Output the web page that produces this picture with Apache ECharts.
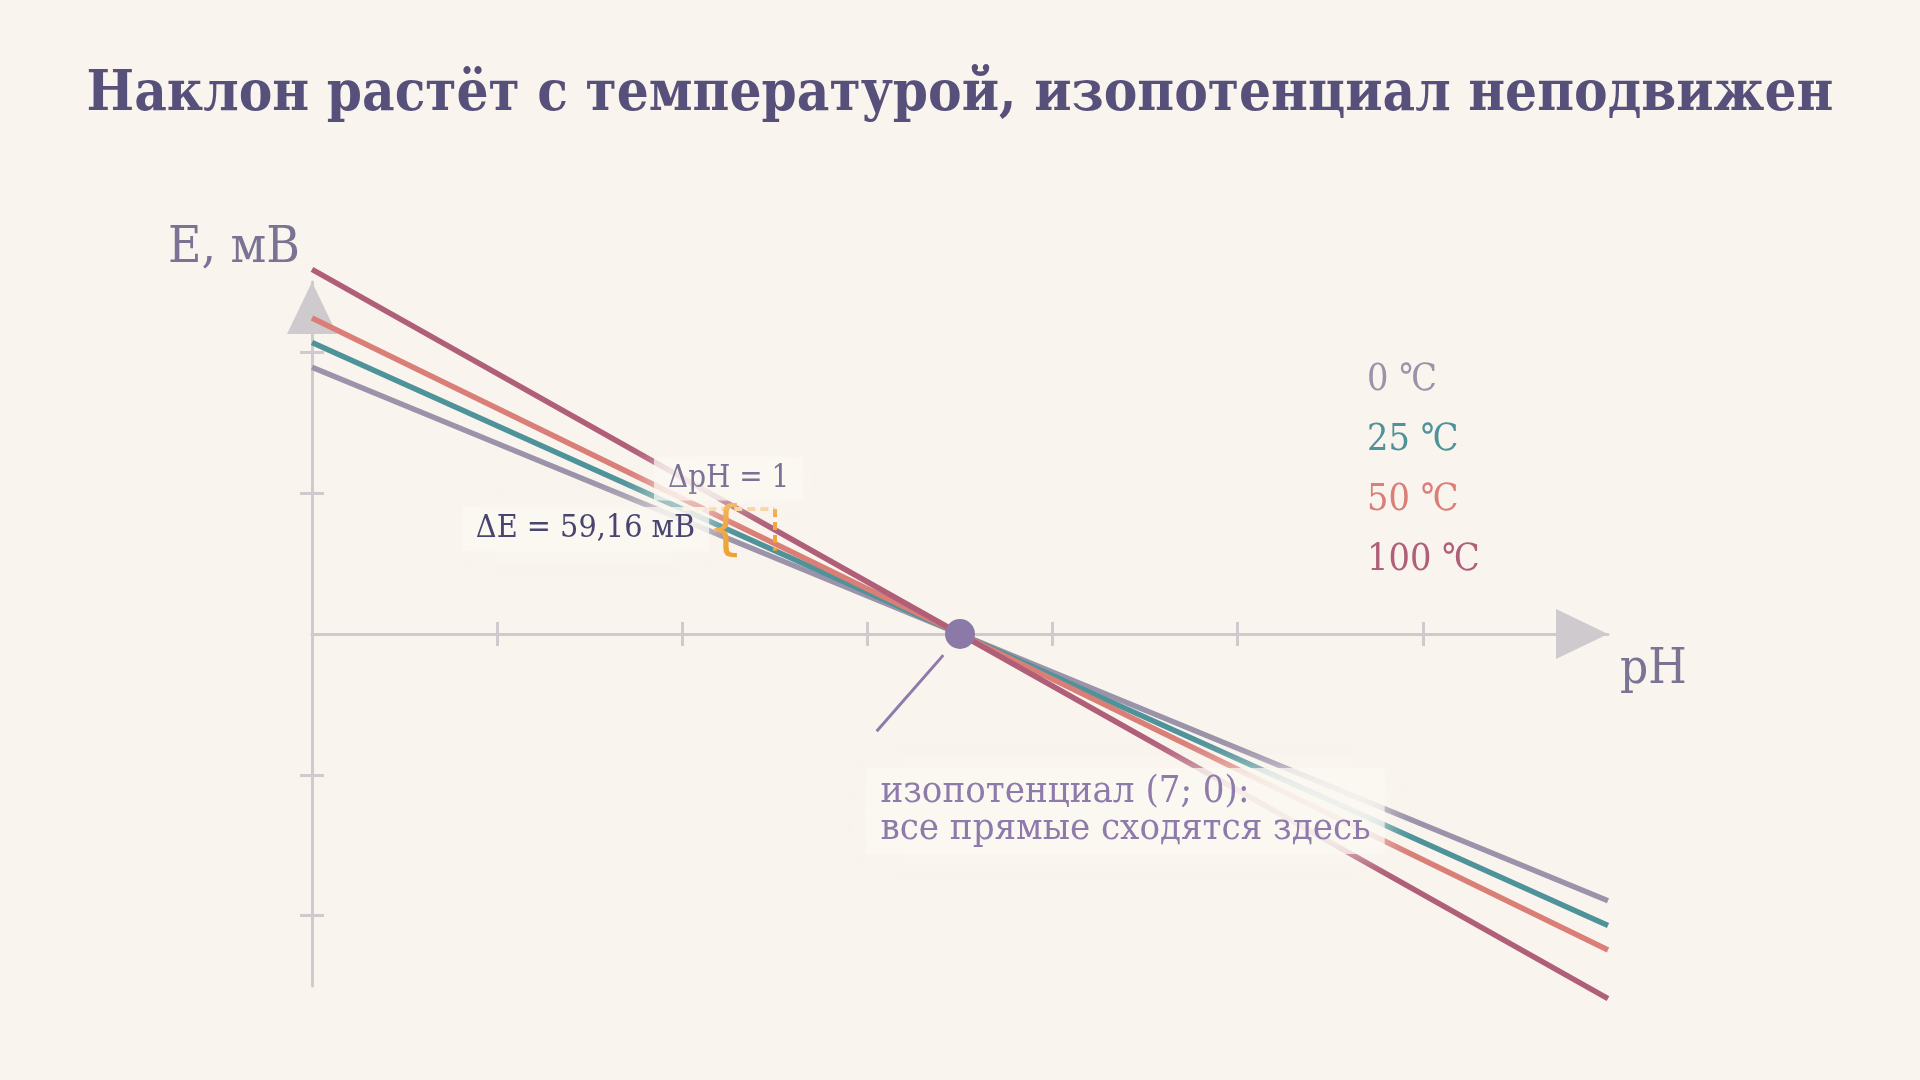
<!DOCTYPE html>
<html>
<head>
	<meta charset="utf-8">
	<title>Наклон растёт с температурой</title>
	<script src="https://cdn.jsdelivr.net/npm/echarts@6/dist/echarts.min.js"></script>
	<style>
		html, body { margin: 0; padding: 0; background: #f9f4ed; }
		#main { width: 1920px; height: 1080px; }
	</style>
</head>
<body>
	<div id="main"></div>
	<script type="text/javascript">
		// данные
		var temps = ['0 ℃', '25 ℃', '50 ℃', '100 ℃'];
		var phPoints = [0, 7, 14];
		var eT0 = [379, 0, -379];
		var eT25 = [414, 0, -414];
		var eT50 = [449, 0, -449];
		var eT100 = [518, 0, -518];
		var isoPoint = [7, 0];
		var xTicks = [2, 4, 6, 8, 10, 12];
		var yTicks = [-400, -200, 200, 400];
		// треугольник наклона на прямой 25 ℃
		var triPH = [4, 5];
		var triE = [177.5, 118.3];

		var colors = ['#9b93a9', '#4f939a', '#d97f78', '#b05f79'];
		var serif = '"DejaVu Serif Condensed", "DejaVu Serif", serif';
		var axisColor = '#cfcace';
		var bg = '#f9f4ed';

		function pairs(xs, ys) {
			var out = [];
			for (var i = 0; i < xs.length; i++) out.push([xs[i], ys[i]]);
			return out;
		}

		var lineSeries = [eT0, eT25, eT50, eT100].map(function (vals, i) {
			return {
				name: temps[i],
				type: 'line',
				data: pairs(phPoints, vals),
				showSymbol: false,
				symbol: 'none',
				clip: false,
				z: 2,
				lineStyle: { color: colors[i], width: 5.5 },
				itemStyle: { color: colors[i] }
			};
		});

		// мягкий «ореол» под подписями
		var haloBox = {
			backgroundColor: 'rgba(251,248,243,0.72)',
			shadowColor: 'rgba(251,248,243,1)',
			shadowBlur: 30
		};

		var annotation = {
			name: 'iso',
			type: 'scatter',
			data: [isoPoint],
			symbolSize: 30,
			z: 10,
			itemStyle: { color: '#8b79a8', opacity: 1 },
			markLine: {
				silent: true,
				symbol: ['none', 'none'],
				label: { show: false },
				data: [
					[{ coord: [6.82, -30], lineStyle: { color: '#8e7aab', width: 3, type: 'solid' } }, { coord: [6.1, -138] }],
					[{ coord: [triPH[0], triE[0]], lineStyle: { color: '#f6cf98', width: 4, type: [8, 5] } }, { coord: [triPH[1], triE[0]] }],
					[{ coord: [triPH[1], triE[0]], lineStyle: { color: '#f2a33c', width: 4, type: [8, 5] } }, { coord: [triPH[1], triE[1]] }]
				]
			},
			markPoint: {
				silent: true,
				symbol: 'circle',
				symbolSize: 0,
				data: [
					{
						coord: [4.47, 144],
						label: { show: true, position: [0, 0], formatter: '{', align: 'center', verticalAlign: 'middle',
							fontFamily: 'DejaVu Sans', fontWeight: 'normal', fontSize: 58, color: '#f0a030' }
					},
					{
						coord: [4.5, 220],
						label: Object.assign({ show: true, position: [0, 0], formatter: 'ΔpH = 1', align: 'center', verticalAlign: 'middle',
							fontFamily: serif, fontSize: 31, color: '#7a7296', padding: [6, 14] }, haloBox)
					},
					{
						coord: [4.139, 149],
						label: Object.assign({ show: true, position: [0, 0], offset: [14, 0], formatter: 'ΔE = 59,16 мВ', align: 'right', verticalAlign: 'middle',
							fontFamily: serif, fontSize: 32, color: '#4a4470', padding: [6, 14] }, haloBox)
					},
					{
						coord: [6.14, -199],
						label: Object.assign({ show: true, position: [0, 0], offset: [-14, -6], formatter: 'изопотенциал (7; 0):\nвсе прямые сходятся здесь',
							align: 'left', verticalAlign: 'top', lineHeight: 37,
							fontFamily: serif, fontSize: 38, color: '#8e7aab', padding: [6, 14] }, haloBox)
					}
				]
			}
		};

		function baseX(extra) {
			return Object.assign({
				type: 'value', min: 0, max: 14,
				axisLabel: { show: false },
				splitLine: { show: false }
			}, extra);
		}
		function baseY(extra) {
			return Object.assign({
				type: 'value', min: -500, max: 500,
				axisLabel: { show: false },
				splitLine: { show: false }
			}, extra);
		}

		var option = {
			backgroundColor: bg,
			animation: false,
			title: {
				text: 'Наклон растёт с температурой, изопотенциал неподвижен',
				left: 'center',
				top: 62,
				textStyle: { fontFamily: serif, fontWeight: 'bold', fontSize: 56, color: '#57507a' }
			},
			legend: {
				orient: 'vertical',
				left: 1362,
				top: 358,
				padding: 0,
				icon: 'none',
				itemWidth: 0,
				itemHeight: 14,
				itemGap: 16,
				selectedMode: false,
				textStyle: { fontFamily: serif, fontSize: 37.5, lineHeight: 44 },
				data: temps.map(function (t, i) {
					return { name: t, textStyle: { color: colors[i] } };
				})
			},
			grid: [
				{ left: 312, right: 312, top: 282, bottom: 94 },
				{ left: 312, right: 312, top: 282, bottom: 94 }
			],
			xAxis: [
				baseX({
					gridIndex: 0,
					name: 'pH',
					nameLocation: 'end',
					nameGap: 12,
					nameTextStyle: { fontFamily: serif, fontSize: 49, color: '#7a7394', align: 'left', verticalAlign: 'top', padding: [12, 0, 0, 0] },
					axisLine: { show: true, onZero: true, symbol: ['none', 'triangle'], symbolSize: [50, 52], symbolOffset: [0, -26],
						lineStyle: { color: axisColor, width: 3 } },
					axisTick: { show: true, length: 12, customValues: xTicks, lineStyle: { color: axisColor, width: 3 } }
				}),
				baseX({
					gridIndex: 1,
					axisLine: { show: false, onZero: true },
					axisTick: { show: true, inside: true, length: 12, customValues: xTicks, lineStyle: { color: axisColor, width: 3 } }
				})
			],
			yAxis: [
				baseY({
					gridIndex: 0,
					name: 'E, мВ',
					nameLocation: 'end',
					nameGap: 8,
					nameTextStyle: { fontFamily: serif, fontSize: 51, color: '#7a7394', align: 'right', verticalAlign: 'bottom', padding: [0, 12, 0, 0] },
					axisLine: { show: true, onZero: true, symbol: ['none', 'triangle'], symbolSize: [50, 52], symbolOffset: [0, -26],
						lineStyle: { color: axisColor, width: 3 } },
					axisTick: { show: true, length: 12, customValues: yTicks, lineStyle: { color: axisColor, width: 3 } }
				}),
				baseY({
					gridIndex: 1,
					axisLine: { show: false, onZero: true },
					axisTick: { show: true, inside: true, length: 12, customValues: yTicks, lineStyle: { color: axisColor, width: 3 } }
				})
			],
			series: lineSeries.concat([annotation])
		};

		var myChart = echarts.init(document.getElementById('main'));
		myChart.setOption(option);
	</script>
</body>
</html>
